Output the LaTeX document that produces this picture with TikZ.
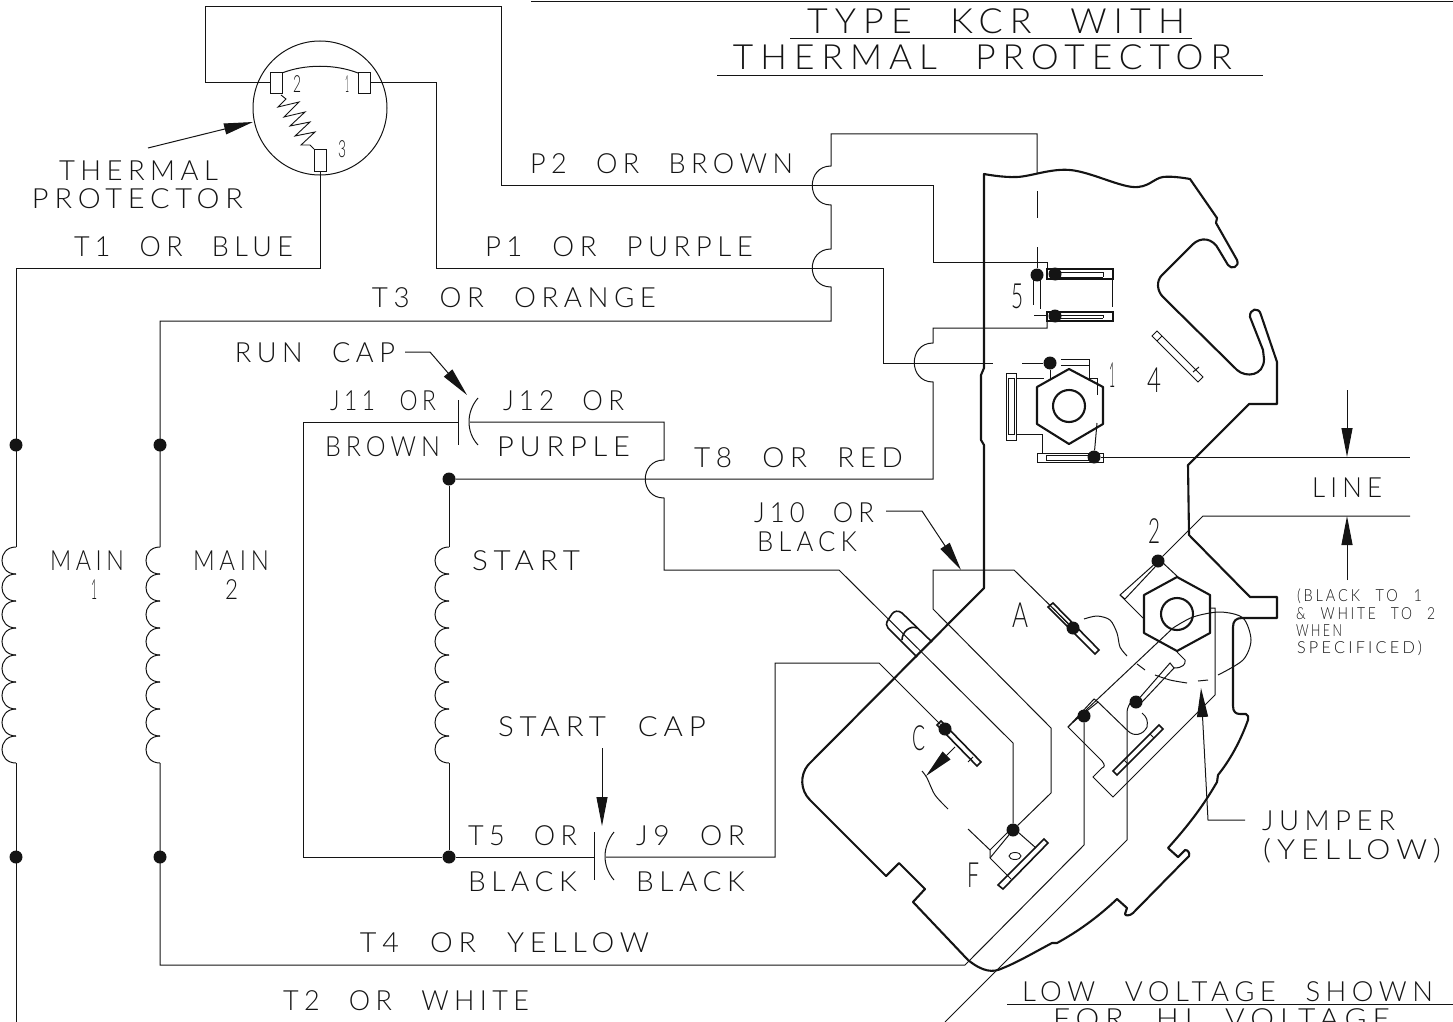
\documentclass[tikz,border=0pt]{standalone}
\usepackage{graphicx}
\usepackage{fontspec}
\usetikzlibrary{arrows.meta}
\newfontfamily\cadfont[LetterSpace=20,WordSpace=2.3]{Lato Light}
\newcommand\lab[6][20]{%
  \pgfmathsetmacro\fsz{#1/0.72}%
  \pgfmathsetmacro\lw{#4-#3}%
  \pgfmathsetmacro\lx{(#3+#4)/2}%
  \pgfmathsetmacro\ly{#5+#1/2}%
  \node[anchor=base,inner sep=0pt,text=ink] (#2) at (\lx,\ly) {\resizebox{\lw pt}{\height}{\fontsize{\fsz pt}{\fsz pt}\cadfont #6}};}
\definecolor{ink}{gray}{0.08}
\tikzset{
  wire/.style={draw=ink,line width=1pt,line join=miter},
  plate/.style={draw=ink,line width=2.1pt,line join=round},
  fine/.style={draw=ink,line width=0.9pt},
  heavy/.style={draw=ink,line width=1.6pt},
  dot/.style={circle,fill=ink,inner sep=0pt,minimum size=13pt},
  pointer/.style={wire,-{Triangle[length=29pt,width=11pt]}},
}
\newcommand\hop[3]{.. controls (#1-25,#2) and (#1-25,#3) .. (#1,#3)}
\begin{document}
\begin{tikzpicture}[x=1pt,y=-1pt]
\useasboundingbox (0,0) rectangle (1453,1022);
% junction dots
\node[dot] (m1a) at (16,445) {};
\node[dot] (m1b) at (16,857) {};
\node[dot] (m2a) at (160,445) {};
\node[dot] (m2b) at (160,857) {};
\node[dot] (sa) at (449,479) {};
\node[dot] (sb) at (449,857) {};
\node[dot] (t5a) at (1037,275) {};
\node[dot] (t5b) at (1055,274) {};
\node[dot] (t5c) at (1055,316) {};
\node[dot] (t1a) at (1050,363) {};
\node[dot] (t1b) at (1094,457) {};
\node[dot] (t2) at (1158,561) {};
\node[dot] (tA) at (1073,628) {};
\node[dot] (tC) at (945,729) {};
\node[dot] (tF) at (1013,830) {};
\node[dot] (tJa) at (1084,716) {};
\node[dot] (tJb) at (1136,702) {};
% title rules
\draw[wire] (531,2) -- (1453,2);
\draw[wire] (790,38.5) -- (1192,38.5);
\draw[wire] (717,76) -- (1263,76);
\draw[wire] (1007,1004.5) -- (1453,1004.5);
% thermal protector
\draw[wire] (320,108) circle (67);
\coordinate (p2) at (270,83);
\coordinate (p1) at (370,83);
\coordinate (p3) at (320,171);
\draw[wire] (270,73) rectangle (282,94);
\draw[wire] (358,73) rectangle (370,94);
\draw[wire] (314,149) rectangle (326,171);
\draw[wire] (282,73) .. controls (305,64) and (335,64) .. (358,73);
\draw[fine] (281,95) -- (286,99) -- (278,107) -- (299,102) -- (284,117) -- (305,112) -- (290,126) -- (310,122) -- (295,136) -- (315,132) -- (301,145) -- (310,145) -- (314,149);
% wires from protector
\draw[wire] (p2) -- (205,83) -- (205,7) -- (501,7) -- (501,185) -- (933,185) -- (933,262) -- (1047,262) -- (1047,274);
\draw[wire] (p1) -- (436,83) -- (436,268) -- (883,268) -- (883,363) -- (993,363);
\draw[wire] (1022,363) -- (t1a);
\draw[wire] (p3) -- (320,268) -- (16,268) -- (16,547);
\draw[wire] (16,763) -- (16,1022);
% P2/T3 bridge
\draw[wire] (160,547) -- (160,321) -- (831,321) -- (831,287) \hop{831}{287}{249} -- (831,205) \hop{831}{205}{166} -- (831,134) -- (1037,134) -- (1037,173);
\draw[wire] (1037,191) -- (1037,218);
\draw[wire] (1037,247) -- (t5a);
\draw[wire] (160,763) -- (160,965) -- (965,965) -- (1084,845) -- (tJa);
% T8
\draw[wire] (sa) -- (933,479) -- (933,382) \hop{933}{382}{343} -- (933,328) -- (1047,328) -- (1047,316);
% start winding
\draw[wire] (sa) -- (449,547);
\draw[wire] (449,763) -- (sb);
% coils
\foreach \cx in {16,160,449}{
  \foreach \k in {0,...,7}{
    \draw[wire] (\cx,{547+27*\k}) .. controls (\cx-18.7,{547+27*\k}) and (\cx-18.7,{574+27*\k}) .. (\cx,{574+27*\k});
  }
}
% run cap
\draw[wire] (458,422) -- (303,422) -- (303,857) -- (sb);
\draw[wire] (458,400) -- (458,445);
\draw[wire] (478,398) .. controls (466,412) and (466,432) .. (478,445);
\draw[wire] (470,422) -- (664,422) -- (664,460) \hop{664}{460}{498} -- (664,570) -- (839,570) -- (1013,743) -- (tF);
% start cap
\draw[wire] (sb) -- (594,857);
\draw[wire] (594,832) -- (594,880);
\draw[wire] (614,832) .. controls (602,847) and (602,866) .. (614,880);
\draw[wire] (606,857) -- (775,857) -- (775,663) -- (879,663) -- (tC);
% J10
\draw[wire] (tA) -- (1014,570) -- (933,570) -- (933,609) -- (1051,728) -- (1051,793) -- (tF);
% line leads
\draw[wire] (t1b) -- (1410,457);
\draw[wire] (t2) -- (1203,516) -- (1410,516);
% T2
\draw[wire] (945,1022) -- (1127,840) -- (1127,712) .. controls (1127,707) and (1131,703) .. (tJb);
% plate outline
\draw[plate] plot[smooth,tension=.6] coordinates {(984,174) (1017,177) (1070,170) (1133,187) (1163,177) (1190,179)}
 -- (1217,218) -- (1216,223) -- (1237,260) .. controls (1240,267) and (1231,270) .. (1228,265)
 -- (1219,250) .. controls (1213,238) and (1201,236) .. (1192,245)
 -- (1162,275) .. controls (1156,281) and (1157,291) .. (1163,297)
 -- (1237,370) .. controls (1246,378) and (1264,376) .. (1264,359) -- (1263,350)
 -- (1250,317) .. controls (1249,309) and (1259,306) .. (1261,315)
 -- (1277,362) -- (1277,404) -- (1249,404) -- (1188,465) -- (1189,535) -- (1250,597) -- (1277,597) -- (1277,618) -- (1242,618)
 .. controls (1236,618) and (1233,621) .. (1233,627) -- (1233,706) .. controls (1233,712) and (1236,714) .. (1240,714)
 -- (1246,714) .. controls (1248,715) and (1249,717) .. (1248,720)
 .. controls (1240,742) and (1230,760) .. (1218,775) -- (1217,782)
 .. controls (1202,808) and (1186,828) .. (1168,848) -- (1178,857) -- (1185,850) .. controls (1188,850) and (1190,853) .. (1189,856)
 -- (1133,913) .. controls (1130,916) and (1125,916) .. (1125,914) -- (1127,908) -- (1117,899)
 .. controls (1097,918) and (1077,932) .. (1057,943) -- (1052,943)
 .. controls (1035,952) and (1018,962) .. (1003,968) .. controls (993,973) and (983,972) .. (968,960)
 -- (913,902) -- (925,889) -- (899,863) -- (886,876) -- (810,800) .. controls (800,790) and (800,775) .. (808,765)
 -- (984,588) -- (984,445) -- (981,440) -- (981,375) -- (984,368) -- cycle;
% lug
\draw[heavy] (932,642) -- (902,613) .. controls (898,610) and (894,611) .. (892,614) -- (888,620) .. controls (886,623) and (886,626) .. (888,628) -- (917,657);
\draw[heavy] (902,640) .. controls (902,632) and (910,625) .. (917,628);
% top terminals
\draw[heavy] (1047,269) rectangle (1113,279);
\draw[heavy] (1047,312) rectangle (1113,321);
\draw[fine] (1050,272) -- (1103,272) (1050,277) -- (1103,277) (1103,272) -- (1103,277);
\draw[fine] (1050,315) -- (1103,315) (1050,318) -- (1103,318) (1103,315) -- (1103,318);
\draw[wire] (1112,279) -- (1112,307);
\draw[wire] (1033,280) -- (1033,305);
\draw[wire] (1040,280) -- (1040,309);
\draw[wire] (1034,315) -- (1047,315);
% hex 1
\draw[plate] (1069,369) -- (1103,387) -- (1103,424) -- (1069,444) -- (1037,424) -- (1037,387) -- cycle;
\draw[plate] (1069,406) circle (16);
\draw[wire] (1061,359) -- (1089,359) -- (1089,378) -- (1097,378) -- (1097,395);
\draw[wire] (1061,365) -- (1089,365);
\draw[wire] (1097,423) -- (t1b);
\draw[wire] (t1a) -- (1050,380);
\draw[wire] (1006,373) rectangle (1016,440);
\draw[fine] (1008,378) rectangle (1014,434);
\draw[wire] (1016,378) -- (1044,378);
\draw[wire] (1016,434) -- (1042,434) -- (1042,453);
\draw[wire] (1037,453) rectangle (1103,462);
\draw[fine] (1046,455) -- (1094,455) (1046,460) -- (1094,460) (1046,455) -- (1046,460);
% tab 4
\draw[wire] (1152,336) -- (1157,331) -- (1203,377) -- (1198,382) -- cycle (1157,341) -- (1162,336) (1193,372) -- (1199,367);
% hex 2
\draw[plate] (1177,577) -- (1210,595) -- (1210,633) -- (1177,651) -- (1144,633) -- (1144,595) -- cycle;
\draw[plate] (1177,614) circle (16);
\draw[wire] (t2) -- (1120,595) -- (1143,618);
\draw[wire] (1155,567) -- (1125,599) -- (1120,595);
\draw[wire] (1163,563) -- (1178,577);
% jumper plate
\draw[wire] (1173,628) -- (1068,727) -- (1102,761) .. controls (1105,765) and (1105,767) .. (1102,768) -- (1093,777) -- (1113,797) -- (1215,695) -- (1215,608) -- (1210,608);
\draw[wire] (1098,702) -- (1128,731) .. controls (1134,737) and (1143,735) .. (1147,727) .. controls (1148,721) and (1147,717) .. (1142,713);
\draw[wire] (1073,722) -- (1098,702) -- (1094,699) -- (1068,727);
\draw[wire] (tJb) -- (1170,663) -- (1174,668) -- (1142,702);
\draw[wire] (1177,652) -- (1185,660) .. controls (1186,664) and (1183,668) .. (1174,668);
\draw[heavy] (1113,771) -- (1117,775) -- (1163,729) -- (1159,725) -- cycle;
\draw[wire] (1150,734) -- (1154,738) (1124,760) -- (1128,764);
% jumper curves
\draw[wire] plot[smooth] coordinates {(1084,619) (1097,616) (1110,620) (1117,633) (1120,647) (1127,656)};
\draw[wire] (1137,664) -- (1145,670);
\draw[wire] plot[smooth] coordinates {(1155,675) (1170,680) (1187,683)};
\draw[wire] (1198,681) -- (1208,680);
\draw[wire] plot[smooth] coordinates {(1218,675) (1243,660) (1251,640) (1243,618) (1220,612) (1193,617) (1173,628)};
% terminal A
\draw[heavy] (1048,607) -- (1053,603) -- (1099,650) -- (1095,654) -- cycle;
\draw[wire] (1053,608) -- (1072,628);
% terminal C
\draw[heavy] (937,725) -- (941,721) -- (981,762) -- (977,766) -- cycle;
\draw[fine] (973,757) -- (968,762);
\draw[pointer] (955,747) -- (926,776);
\draw[wire] plot[smooth] coordinates {(922,771) (927,778) (935,795) (948,809)};
% terminal F
\draw[heavy] (998,885) -- (1003,889) -- (1048,843) -- (1044,839) -- cycle;
\draw[wire] (1008,832) -- (990,850) -- (990,858) -- (1011,879);
\draw[wire] (tF) -- (990,858);
\draw[wire] (1019,833) -- (1036,848);
\draw[wire] (968,829) -- (990,850);
\draw[fine] (1015,856) ellipse (6 and 3.5);
% pointers
\coordinate (rc) at (405,352);
\draw[pointer] (rc) -- (430,352) -- (467,395);
\coordinate (j10) at (886,511);
\draw[pointer] (j10) -- (922,511) -- (961,570);
\coordinate (tp) at (148,148);
\draw[pointer] (tp) -- (253,122);
\coordinate (sc) at (602,748);
\draw[pointer] (sc) -- (602,826);
\coordinate (lt) at (1347,390);
\draw[pointer] (lt) -- (1347,457);
\coordinate (lb) at (1347,580);
\draw[pointer] (lb) -- (1347,516);
\coordinate (jp) at (1245,820);
\draw[pointer] (jp) -- (1208,820) -- (1201,688);
% labels
\lab[25]{l1}{807}{1185}{21}{TYPE KCR WITH}
\lab[25]{l2}{733}{1232}{57}{THERMAL PROTECTOR}
\lab{l3}{59}{218}{170}{THERMAL}
\lab{l4}{32}{243}{198}{PROTECTOR}
\lab{l5}{74}{293}{246}{T1 OR BLUE}
\lab{l6}{530}{793}{163}{P2 OR BROWN}
\lab{l7}{485}{753}{246}{P1 OR PURPLE}
\lab{l8}{372}{656}{297}{T3 OR ORANGE}
\lab{l9}{235}{395}{352}{RUN CAP}
\lab{l10}{330}{436}{400}{J11 OR}
\lab{l11}{503}{624}{400}{J12 OR}
\lab{l12}{325}{440}{446}{BROWN}
\lab{l13}{497}{630}{446}{PURPLE}
\lab{l14}{694}{903}{457}{T8 OR RED}
\lab{l15}{754}{874}{512}{J10 OR}
\lab{l16}{757}{857}{541}{BLACK}
\lab{l17}{472}{580}{560}{START}
\lab{l18}{50}{124}{560}{MAIN}
\lab{l19}{91}{97}{589}{1}
\lab{l20}{193}{269}{560}{MAIN}
\lab{l21}{225}{238}{589}{2}
\lab{l22}{498}{706}{726}{START CAP}
\lab{l23}{468}{577}{835}{T5 OR}
\lab{l24}{636}{745}{835}{J9 OR}
\lab{l25}{468}{577}{881}{BLACK}
\lab{l26}{636}{745}{881}{BLACK}
\lab{l27}{360}{649}{942}{T4 OR YELLOW}
\lab{l28}{283}{529}{1000}{T2 OR WHITE}
\lab{l29}{1022}{1433}{991}{LOW VOLTAGE SHOWN}
\lab{l30}{1053}{1390}{1018}{FOR HI VOLTAGE}
\lab{l31}{1312}{1382}{487}{LINE}
\lab[12]{l32}{1297}{1422}{595}{(BLACK TO 1}
\lab[12]{l33}{1296}{1435}{613}{\& WHITE TO 2}
\lab[12]{l34}{1296}{1342}{630}{WHEN}
\lab[12]{l35}{1297}{1422}{647}{SPECIFICED)}
\lab{l36}{1262}{1395}{820}{JUMPER}
\lab{l37}{1263}{1441}{849}{(YELLOW)}
\lab[25]{l38}{1012}{1028}{615}{A}
\lab[25]{l39}{912}{925}{738}{C}
\lab[25]{l40}{967}{979}{875}{F}
\lab[25]{l41}{1148}{1160}{531}{2}
\lab[25]{l42}{1011}{1023}{296}{5}
\lab[25]{l43}{1109}{1115}{375}{1}
\lab[25]{l44}{1147}{1161}{380}{4}
\lab[17]{l45}{293}{301}{84}{2}
\lab[17]{l46}{345}{349}{84}{1}
\lab[17]{l47}{338}{346}{149}{3}
\end{tikzpicture}
\end{document}
